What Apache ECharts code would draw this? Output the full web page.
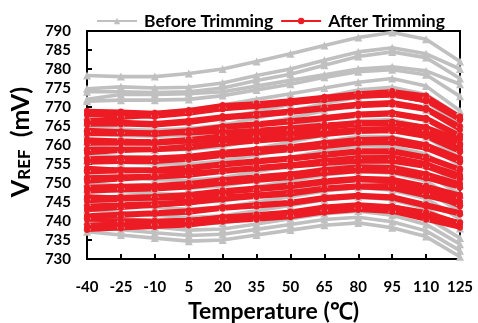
<!DOCTYPE html>
<html>
<head>
<meta charset="utf-8">
<script src="https://cdn.jsdelivr.net/npm/echarts@6/dist/echarts.min.js"></script>
<style>html,body{margin:0;padding:0;background:#fff}#c{width:478px;height:323px}</style>
</head>
<body>
<div id="c"></div>
<script>
const categories = ['-40','-25','-10','5','20','35','50','65','80','95','110','125'];
const yTicks = {min: 730, max: 790, interval: 5};

const beforeTrimming = [
  [778.3, 778, 778, 778.8, 780, 782, 784, 786.2, 788.3, 789.6, 787.8, 782],
  [774.8, 775.3, 775, 775.2, 776.3, 778.3, 780, 782.3, 784.5, 785.6, 784, 780],
  [774, 774, 773.8, 774, 775, 777, 778.6, 781, 783.3, 784.5, 783, 777.5],
  [772, 773.3, 773.3, 773.5, 774, 775.5, 777, 778.5, 780, 780.6, 779.5, 776],
  [771.5, 771.8, 771.8, 772, 773, 774.5, 776, 777.8, 779.3, 779.8, 778.5, 772.8],
  [767.5, 768.3, 768.5, 769.3, 770.5, 772, 773.5, 775, 776.5, 777.5, 775.5, 769],
  [766, 765.6, 765.4, 765.9, 766.9, 768.8, 770.7, 772.7, 774.5, 775.2, 773.3, 767.6],
  [764.5, 764.1, 763.9, 764.3, 765.2, 767.1, 768.9, 770.9, 772.6, 773.2, 771.3, 765.6],
  [763, 762.5, 762.3, 762.6, 763.5, 765.3, 767.1, 769, 770.7, 771.2, 769.3, 763.6],
  [761, 760.5, 760.2, 760.5, 761.3, 763, 764.8, 766.6, 768.2, 768.7, 766.7, 761.1],
  [759.5, 759, 758.7, 758.8, 759.6, 761.4, 763.1, 764.8, 766.4, 766.7, 764.7, 759.1],
  [757.5, 756.9, 756.6, 756.7, 757.4, 759.1, 760.8, 762.6, 764, 764.2, 762.2, 756.6],
  [756, 755.4, 755, 755, 755.8, 757.4, 759.1, 760.9, 762.2, 762.2, 760.1, 754.6],
  [754, 753.4, 753, 752.9, 753.6, 755.2, 756.8, 758.5, 759.8, 759.6, 757.6, 752],
  [752, 751.4, 750.9, 750.7, 751.4, 753, 754.5, 756.2, 757.4, 757.1, 755, 749.5],
  [750, 749.3, 748.8, 748.6, 749.2, 750.7, 752.2, 753.9, 755, 754.6, 752.5, 747],
  [748.5, 747.8, 747.2, 746.9, 747.5, 749, 750.5, 752.1, 753.1, 752.6, 750.5, 745],
  [746.5, 745.8, 745.2, 744.8, 745.3, 746.8, 748.2, 749.8, 750.7, 750.1, 747.9, 742.5],
  [745, 744.2, 743.6, 743.1, 743.6, 745, 746.4, 747.9, 748.8, 748.1, 745.9, 740.5],
  [743, 742.2, 741.5, 740.9, 741.4, 742.7, 744.1, 745.6, 746.4, 745.6, 743.3, 738],
  [741.5, 740.7, 739.9, 739.2, 739.5, 740.8, 742.2, 743.6, 744.3, 743.3, 740.9, 735.5],
  [740, 739.1, 738.4, 737.6, 737.9, 739.2, 740.6, 741.9, 742.6, 741.5, 739.1, 733.9],
  [738.6, 737.7, 736.9, 736.2, 736.5, 737.8, 739.1, 740.4, 741, 739.8, 737.4, 732.2],
  [737.2, 736.3, 735.5, 734.7, 735, 736.3, 737.6, 738.9, 739.5, 738.2, 735.9, 730.6]
];

const afterTrimming = [
  [769, 768.8, 768.5, 769.2, 770.5, 771, 771.8, 772.7, 773.6, 774.2, 773, 767.5],
  [768.4, 768.2, 768, 768.6, 769.8, 770.5, 771.3, 772.2, 773, 773.6, 772.2, 766.8],
  [767.8, 767.8, 767.4, 768.2, 769.4, 770, 770.9, 771.8, 772.6, 773, 771.6, 766.5],
  [766.5, 767.1, 767.7, 768.5, 769.5, 770.3, 771.1, 772.1, 772.9, 773.1, 771.5, 767.5],
  [766, 766.1, 765.8, 766.5, 767.6, 768.3, 769.1, 770, 770.9, 771.3, 769.8, 765],
  [765.3, 765.4, 765.1, 765.8, 767, 767.6, 768.4, 769.4, 770.2, 770.6, 769.2, 764],
  [764, 763.6, 763.2, 763, 763.5, 764, 764.6, 765.4, 766, 766.1, 764.8, 761.5],
  [763.4, 763.5, 763.3, 763.9, 765, 765.7, 766.5, 767.4, 768.3, 768.6, 767.2, 762.6],
  [762.8, 762.9, 762.7, 763.3, 764.5, 765.1, 765.9, 766.8, 767.7, 768, 766.6, 762],
  [761.5, 761.2, 760.9, 760.9, 761.5, 762, 762.7, 763.5, 764.2, 764.5, 763.3, 760],
  [761, 761.1, 761, 761.6, 762.6, 763.3, 764.1, 765, 765.9, 766.1, 764.6, 760.4],
  [760.3, 760.4, 760.3, 760.9, 762, 762.7, 763.4, 764.4, 765.3, 765.5, 764.1, 759.6],
  [759, 759.1, 759.1, 759.7, 760.7, 761.4, 762.2, 763.1, 764, 764.3, 762.7, 758.6],
  [758.4, 758.5, 758.6, 759.1, 760.1, 760.9, 761.6, 762.6, 763.4, 763.6, 762.1, 758.1],
  [757.8, 758.4, 759, 759.8, 760.8, 761.6, 762.4, 763.4, 764.2, 764.4, 762.8, 758.8],
  [756.5, 756.7, 756.7, 757.2, 758.2, 759, 759.7, 760.7, 761.6, 761.8, 760.2, 756.6],
  [756, 756.2, 756.2, 756.7, 757.7, 758.5, 759.2, 760.2, 761, 761.2, 759.6, 756],
  [755.3, 755.5, 755.5, 756.1, 757.1, 757.8, 758.6, 759.5, 760.4, 760.5, 759, 755.4],
  [754, 753.5, 753, 752.8, 753.2, 753.7, 754.3, 755, 755.6, 755.6, 754.2, 751],
  [753.4, 753.6, 753.7, 754.2, 755.2, 756, 756.7, 757.7, 758.6, 758.6, 757, 753.8],
  [752.8, 753, 753.1, 753.6, 754.6, 755.4, 756.1, 757.1, 758, 758, 756.4, 753.3],
  [751.5, 751.8, 751.9, 752.4, 753.4, 754.2, 754.9, 755.9, 756.8, 756.7, 755.1, 752.2],
  [751, 751.3, 751.4, 751.9, 752.9, 753.7, 754.4, 755.4, 756.2, 756.1, 754.5, 751.6],
  [750.3, 750.9, 751.5, 752.3, 753.3, 754.1, 754.9, 755.9, 756.7, 756.9, 755.3, 751.3],
  [749, 749.3, 749.5, 750, 751, 751.8, 752.5, 753.6, 754.4, 754.2, 752.5, 749.9],
  [748.4, 748.7, 748.9, 749.4, 750.4, 751.2, 751.9, 753, 753.8, 753.6, 751.8, 749.3],
  [747.7, 748.1, 748.3, 748.8, 749.8, 750.5, 751.3, 752.4, 753.1, 752.9, 751.2, 748.7],
  [746.5, 746.2, 745.9, 745.9, 746.5, 747, 747.7, 748.5, 749.2, 749.5, 748.3, 745],
  [746, 746.4, 746.6, 747.1, 748.1, 748.8, 749.6, 750.7, 751.4, 751.1, 749.3, 746.9],
  [745.2, 745.6, 745.9, 746.4, 747.4, 748.1, 748.9, 750, 750.7, 750.4, 748.5, 746.2],
  [744, 744.4, 744.7, 745.2, 746.2, 746.9, 747.6, 748.8, 749.4, 749.1, 747.2, 745],
  [743.4, 743.8, 744.1, 744.6, 745.6, 746.3, 747, 748.2, 748.8, 748.5, 746.5, 744.4],
  [742.8, 743.4, 744, 744.8, 745.8, 746.6, 747.4, 748.4, 749.2, 749.4, 747.8, 743.8],
  [741.5, 741.9, 742.3, 742.8, 743.7, 744.4, 745.1, 746.3, 746.9, 746.5, 744.4, 742.3],
  [741, 741.4, 741.8, 742.2, 743.2, 743.8, 744.5, 745.7, 746.3, 745.9, 743.8, 741.7],
  [740.3, 740.2, 740.1, 740.3, 741, 741.6, 742.3, 743.2, 743.9, 743.9, 742.4, 739.5],
  [739, 739.4, 739.8, 740.2, 741.2, 741.8, 742.5, 743.8, 744.4, 743.9, 741.8, 739.7],
  [738.3, 738.7, 739.1, 739.5, 740.5, 741.1, 741.8, 743, 743.6, 743.1, 741, 739],
  [737.6, 738, 738.4, 738.8, 739.8, 740.3, 741, 742.2, 742.9, 742.4, 740.3, 738.2]
];

const GRAY = '#c0c0c0';
const RED = '#ed1c24';
const FONT = 'Lato';

function mk(name, data, color, symbol, size, width) {
  return {
    name: name, type: 'line', data: data,
    symbol: symbol, symbolSize: size,
    lineStyle: {color: color, width: width},
    itemStyle: {color: color, borderWidth: 0},
    emphasis: {disabled: true},
    silent: true
  };
}

const series = [];
beforeTrimming.forEach(d => series.push(mk('Before Trimming', d, GRAY, 'triangle', 8, 3.6)));
afterTrimming.forEach(d => series.push(mk('After Trimming', d, RED, 'circle', 6, 4)));

const chart = echarts.init(document.getElementById('c'), null, {renderer: 'canvas'});
chart.setOption({
  animation: false,
  backgroundColor: '#fff',
  legend: {
    data: ['Before Trimming', 'After Trimming'],
    top: 7, left: 91,
    itemWidth: 40, itemHeight: 8, itemGap: 7,
    textStyle: {fontFamily: FONT, fontWeight: 'bold', fontSize: 17.5, color: '#000', padding: [0, 0, 0, 2]}
  },
  grid: {left: 87, right: 18, top: 31, bottom: 64, show: true, borderColor: '#000', borderWidth: 2, backgroundColor: 'transparent', containLabel: false, outerBoundsMode: 'none'},
  xAxis: {
    type: 'category', data: categories, boundaryGap: false,
    name: 'Temperature (℃)', nameLocation: 'middle', nameGap: 40,
    nameTextStyle: {fontFamily: FONT, fontWeight: 'bold', fontSize: 23, color: '#000'},
    axisLine: {lineStyle: {color: '#000', width: 2}},
    axisTick: {inside: true, length: 5, interval: 0, lineStyle: {color: '#000', width: 2}},
    axisLabel: {interval: 0, fontFamily: FONT, fontWeight: 'bold', fontSize: 15, color: '#000', margin: 21},
    splitLine: {show: false}
  },
  yAxis: {
    type: 'value', min: yTicks.min, max: yTicks.max, interval: yTicks.interval,
    name: '{v|V}{s|REF}{v|  (mV)}', nameLocation: 'middle', nameGap: 54,
    nameTextStyle: {
      padding: [0, 0, 0, 6],
      rich: {
        v: {fontFamily: FONT, fontWeight: 'bold', fontSize: 25, color: '#000'},
        s: {fontFamily: FONT, fontWeight: 'bold', fontSize: 17, color: '#000', verticalAlign: 'bottom', padding: [5, 0, 0, 0]}
      }
    },
    axisLine: {show: true, lineStyle: {color: '#000', width: 2}},
    axisTick: {show: true, inside: true, length: 5, lineStyle: {color: '#000', width: 2}},
    axisLabel: {fontFamily: FONT, fontWeight: 'bold', fontSize: 15, color: '#000', margin: 16},
    splitLine: {show: false}
  },
  series: series
});
</script>
</body>
</html>
